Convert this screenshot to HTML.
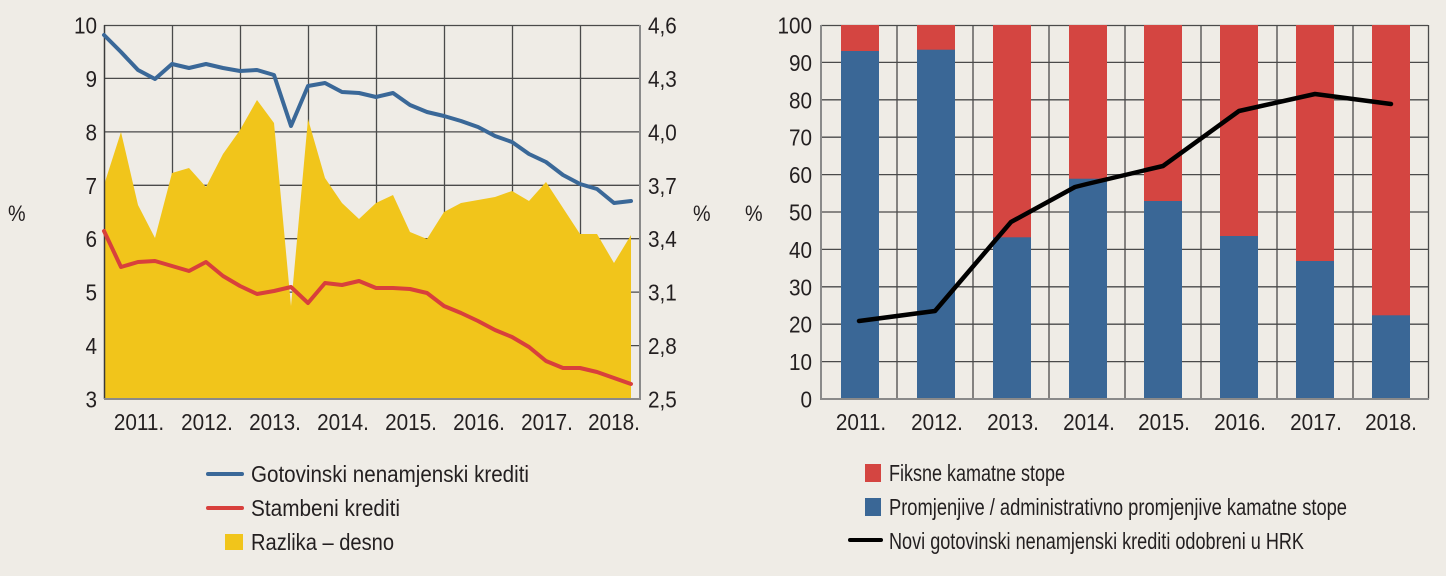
<!DOCTYPE html>
<html><head><meta charset="utf-8"><style>
html,body{margin:0;padding:0;background:#EFECE6;}
svg{display:block;}
text{font-family:"Liberation Sans",sans-serif;fill:#231F20;}
</style></head><body>
<svg width="1446" height="576" viewBox="0 0 1446 576" xmlns="http://www.w3.org/2000/svg">
<rect width="1446" height="576" fill="#EFECE6"/>

<!-- LEFT CHART -->
<g stroke="#4a4a4a" stroke-width="1.3" fill="none">
  <line x1="104" y1="25.5" x2="640" y2="25.5"/>
  <line x1="104" y1="78.4" x2="640" y2="78.4"/>
  <line x1="104" y1="131.9" x2="640" y2="131.9"/>
  <line x1="104" y1="185.3" x2="640" y2="185.3"/>
  <line x1="104" y1="238.7" x2="640" y2="238.7"/>
  <line x1="104" y1="292.1" x2="640" y2="292.1"/>
  <line x1="104" y1="345.6" x2="640" y2="345.6"/>
  <line x1="172.5" y1="25" x2="172.5" y2="399"/>
  <line x1="240.5" y1="25" x2="240.5" y2="399"/>
  <line x1="308.5" y1="25" x2="308.5" y2="399"/>
  <line x1="376.5" y1="25" x2="376.5" y2="399"/>
  <line x1="444.5" y1="25" x2="444.5" y2="399"/>
  <line x1="512.5" y1="25" x2="512.5" y2="399"/>
  <line x1="580.5" y1="25" x2="580.5" y2="399"/>
</g>
<polygon fill="#F1C51B" points="104,185 121,132 138,205 155,238 172,173 189,168 206,187 223,154 240,130 257,100 274,123 291,306 308,119 325,178 342,203 359,219 376,203 393,195 410,232 427,239 444,212 461,203 478,200 495,197 512,191 529,201 546,182 563,208 580,234 597,234 614,263 631,235 631,399 104,399"/>
<line x1="104.5" y1="25" x2="104.5" y2="399" stroke="#3a3a3a" stroke-width="1.5"/>
<line x1="640" y1="25" x2="640" y2="400" stroke="#8a8a8a" stroke-width="2"/>
<line x1="104" y1="399" x2="641" y2="399" stroke="#8a8a8a" stroke-width="2"/>

<polyline fill="none" stroke="#3A6898" stroke-width="4" stroke-linejoin="round" stroke-linecap="round" points="104,35 121,52 138,70 155,79 172,64 189,68 206,64 223,68 240,71 257,70 274,75 291,126 308,86 325,83 342,92 359,93 376,97 393,93 410,105 427,112 444,116 461,121 478,127 495,136 512,142 529,154 546,162 563,175 580,184 597,189 614,203 631,201"/>
<polyline fill="none" stroke="#D8403C" stroke-width="4" stroke-linejoin="round" stroke-linecap="round" points="104,231 121,267 138,262 155,261 172,266 189,271 206,262 223,276 240,286 257,294 274,291 291,287 308,303 325,283 342,285 359,281 376,288 393,288 410,289 427,293 444,306 461,313 478,321 495,330 512,337 529,347 546,361 563,368 580,368 597,372 614,378 631,384"/>

<!-- left axis labels -->
<g font-size="23" text-anchor="end">
  <text transform="translate(97,33.5) scale(0.9 1)">10</text>
  <text transform="translate(97,86.9) scale(0.9 1)">9</text>
  <text transform="translate(97,140.4) scale(0.9 1)">8</text>
  <text transform="translate(97,193.8) scale(0.9 1)">7</text>
  <text transform="translate(97,247.2) scale(0.9 1)">6</text>
  <text transform="translate(97,300.6) scale(0.9 1)">5</text>
  <text transform="translate(97,354.1) scale(0.9 1)">4</text>
  <text transform="translate(97,407.5) scale(0.9 1)">3</text>
</g>
<g font-size="23">
  <text transform="translate(648,33.5) scale(0.9 1)">4,6</text>
  <text transform="translate(648,86.9) scale(0.9 1)">4,3</text>
  <text transform="translate(648,140.4) scale(0.9 1)">4,0</text>
  <text transform="translate(648,193.8) scale(0.9 1)">3,7</text>
  <text transform="translate(648,247.2) scale(0.9 1)">3,4</text>
  <text transform="translate(648,300.6) scale(0.9 1)">3,1</text>
  <text transform="translate(648,354.1) scale(0.9 1)">2,8</text>
  <text transform="translate(648,407.5) scale(0.9 1)">2,5</text>
</g>
<g font-size="23" text-anchor="middle">
  <text transform="translate(139,430) scale(0.9 1)">2011.</text>
  <text transform="translate(207,430) scale(0.9 1)">2012.</text>
  <text transform="translate(275,430) scale(0.9 1)">2013.</text>
  <text transform="translate(343,430) scale(0.9 1)">2014.</text>
  <text transform="translate(411,430) scale(0.9 1)">2015.</text>
  <text transform="translate(479,430) scale(0.9 1)">2016.</text>
  <text transform="translate(547,430) scale(0.9 1)">2017.</text>
  <text transform="translate(614,430) scale(0.9 1)">2018.</text>
</g>
<text font-size="22" transform="translate(8,221) scale(0.9 1)">%</text>
<text font-size="22" transform="translate(693,221) scale(0.9 1)">%</text>

<!-- left legend -->
<line x1="208" y1="474" x2="242" y2="474" stroke="#3A6898" stroke-width="4" stroke-linecap="round"/>
<text x="251" y="482" font-size="23" textLength="278" lengthAdjust="spacingAndGlyphs">Gotovinski nenamjenski krediti</text>
<line x1="208" y1="508" x2="242" y2="508" stroke="#D8403C" stroke-width="4" stroke-linecap="round"/>
<text x="251" y="516" font-size="23" textLength="149" lengthAdjust="spacingAndGlyphs">Stambeni krediti</text>
<rect x="225" y="534" width="18" height="16" fill="#F1C51B"/>
<text x="251" y="550" font-size="23" textLength="143" lengthAdjust="spacingAndGlyphs">Razlika – desno</text>

<!-- RIGHT CHART -->
<g stroke="#4a4a4a" stroke-width="1.3" fill="none">
  <line x1="821" y1="25.5" x2="1428" y2="25.5"/>
  <line x1="821" y1="62.4" x2="1428" y2="62.4"/>
  <line x1="821" y1="99.8" x2="1428" y2="99.8"/>
  <line x1="821" y1="137.2" x2="1428" y2="137.2"/>
  <line x1="821" y1="174.6" x2="1428" y2="174.6"/>
  <line x1="821" y1="212" x2="1428" y2="212"/>
  <line x1="821" y1="249.4" x2="1428" y2="249.4"/>
  <line x1="821" y1="286.8" x2="1428" y2="286.8"/>
  <line x1="821" y1="324.2" x2="1428" y2="324.2"/>
  <line x1="821" y1="361.6" x2="1428" y2="361.6"/>
  <line x1="897" y1="25" x2="897" y2="399"/>
  <line x1="973" y1="25" x2="973" y2="399"/>
  <line x1="1049" y1="25" x2="1049" y2="399"/>
  <line x1="1125" y1="25" x2="1125" y2="399"/>
  <line x1="1201" y1="25" x2="1201" y2="399"/>
  <line x1="1277" y1="25" x2="1277" y2="399"/>
  <line x1="1353" y1="25" x2="1353" y2="399"/>
  <line x1="1428.5" y1="25" x2="1428.5" y2="399"/>
</g>
<!-- bars -->
<g>
  <rect x="841" y="25" width="38" height="374" fill="#D44541"/>
  <rect x="841" y="51" width="38" height="348" fill="#3A6796"/>
  <rect x="917" y="25" width="38" height="374" fill="#D44541"/>
  <rect x="917" y="49.7" width="38" height="349.3" fill="#3A6796"/>
  <rect x="993" y="25" width="38" height="374" fill="#D44541"/>
  <rect x="993" y="237.3" width="38" height="161.7" fill="#3A6796"/>
  <rect x="1069" y="25" width="38" height="374" fill="#D44541"/>
  <rect x="1069" y="178.7" width="38" height="220.3" fill="#3A6796"/>
  <rect x="1144" y="25" width="38" height="374" fill="#D44541"/>
  <rect x="1144" y="201" width="38" height="198" fill="#3A6796"/>
  <rect x="1220" y="25" width="38" height="374" fill="#D44541"/>
  <rect x="1220" y="236" width="38" height="163" fill="#3A6796"/>
  <rect x="1296" y="25" width="38" height="374" fill="#D44541"/>
  <rect x="1296" y="261" width="38" height="138" fill="#3A6796"/>
  <rect x="1372" y="25" width="38" height="374" fill="#D44541"/>
  <rect x="1372" y="315.3" width="38" height="83.7" fill="#3A6796"/>
</g>
<line x1="821" y1="25" x2="821" y2="400" stroke="#8a8a8a" stroke-width="2"/>
<line x1="820" y1="399" x2="1429" y2="399" stroke="#8a8a8a" stroke-width="2"/>
<polyline fill="none" stroke="#000" stroke-width="4.5" stroke-linejoin="round" stroke-linecap="round" points="859,321 935,311 1011,222 1075,187 1087,184 1163,166 1239,111 1315,94 1391,104"/>

<g font-size="23" text-anchor="end">
  <text transform="translate(812,33.5) scale(0.9 1)">100</text>
  <text transform="translate(812,70.9) scale(0.9 1)">90</text>
  <text transform="translate(812,108.3) scale(0.9 1)">80</text>
  <text transform="translate(812,145.7) scale(0.9 1)">70</text>
  <text transform="translate(812,183.1) scale(0.9 1)">60</text>
  <text transform="translate(812,220.5) scale(0.9 1)">50</text>
  <text transform="translate(812,257.9) scale(0.9 1)">40</text>
  <text transform="translate(812,295.3) scale(0.9 1)">30</text>
  <text transform="translate(812,332.7) scale(0.9 1)">20</text>
  <text transform="translate(812,370.1) scale(0.9 1)">10</text>
  <text transform="translate(812,407.5) scale(0.9 1)">0</text>
</g>
<g font-size="23" text-anchor="middle">
  <text transform="translate(861,430) scale(0.9 1)">2011.</text>
  <text transform="translate(937,430) scale(0.9 1)">2012.</text>
  <text transform="translate(1013,430) scale(0.9 1)">2013.</text>
  <text transform="translate(1089,430) scale(0.9 1)">2014.</text>
  <text transform="translate(1164,430) scale(0.9 1)">2015.</text>
  <text transform="translate(1240,430) scale(0.9 1)">2016.</text>
  <text transform="translate(1316,430) scale(0.9 1)">2017.</text>
  <text transform="translate(1391,430) scale(0.9 1)">2018.</text>
</g>
<text font-size="22" transform="translate(745,221) scale(0.9 1)">%</text>

<!-- right legend -->
<rect x="865" y="464" width="16" height="18" fill="#D44541"/>
<text x="889" y="481" font-size="23" textLength="176" lengthAdjust="spacingAndGlyphs">Fiksne kamatne stope</text>
<rect x="865" y="498" width="16" height="18" fill="#3A6796"/>
<text x="889" y="515" font-size="23" textLength="458" lengthAdjust="spacingAndGlyphs">Promjenjive / administrativno promjenjive kamatne stope</text>
<line x1="850" y1="540" x2="881" y2="540" stroke="#000" stroke-width="4" stroke-linecap="round"/>
<text x="889" y="549" font-size="23" textLength="415" lengthAdjust="spacingAndGlyphs">Novi gotovinski nenamjenski krediti odobreni u HRK</text>
</svg>
</body></html>
